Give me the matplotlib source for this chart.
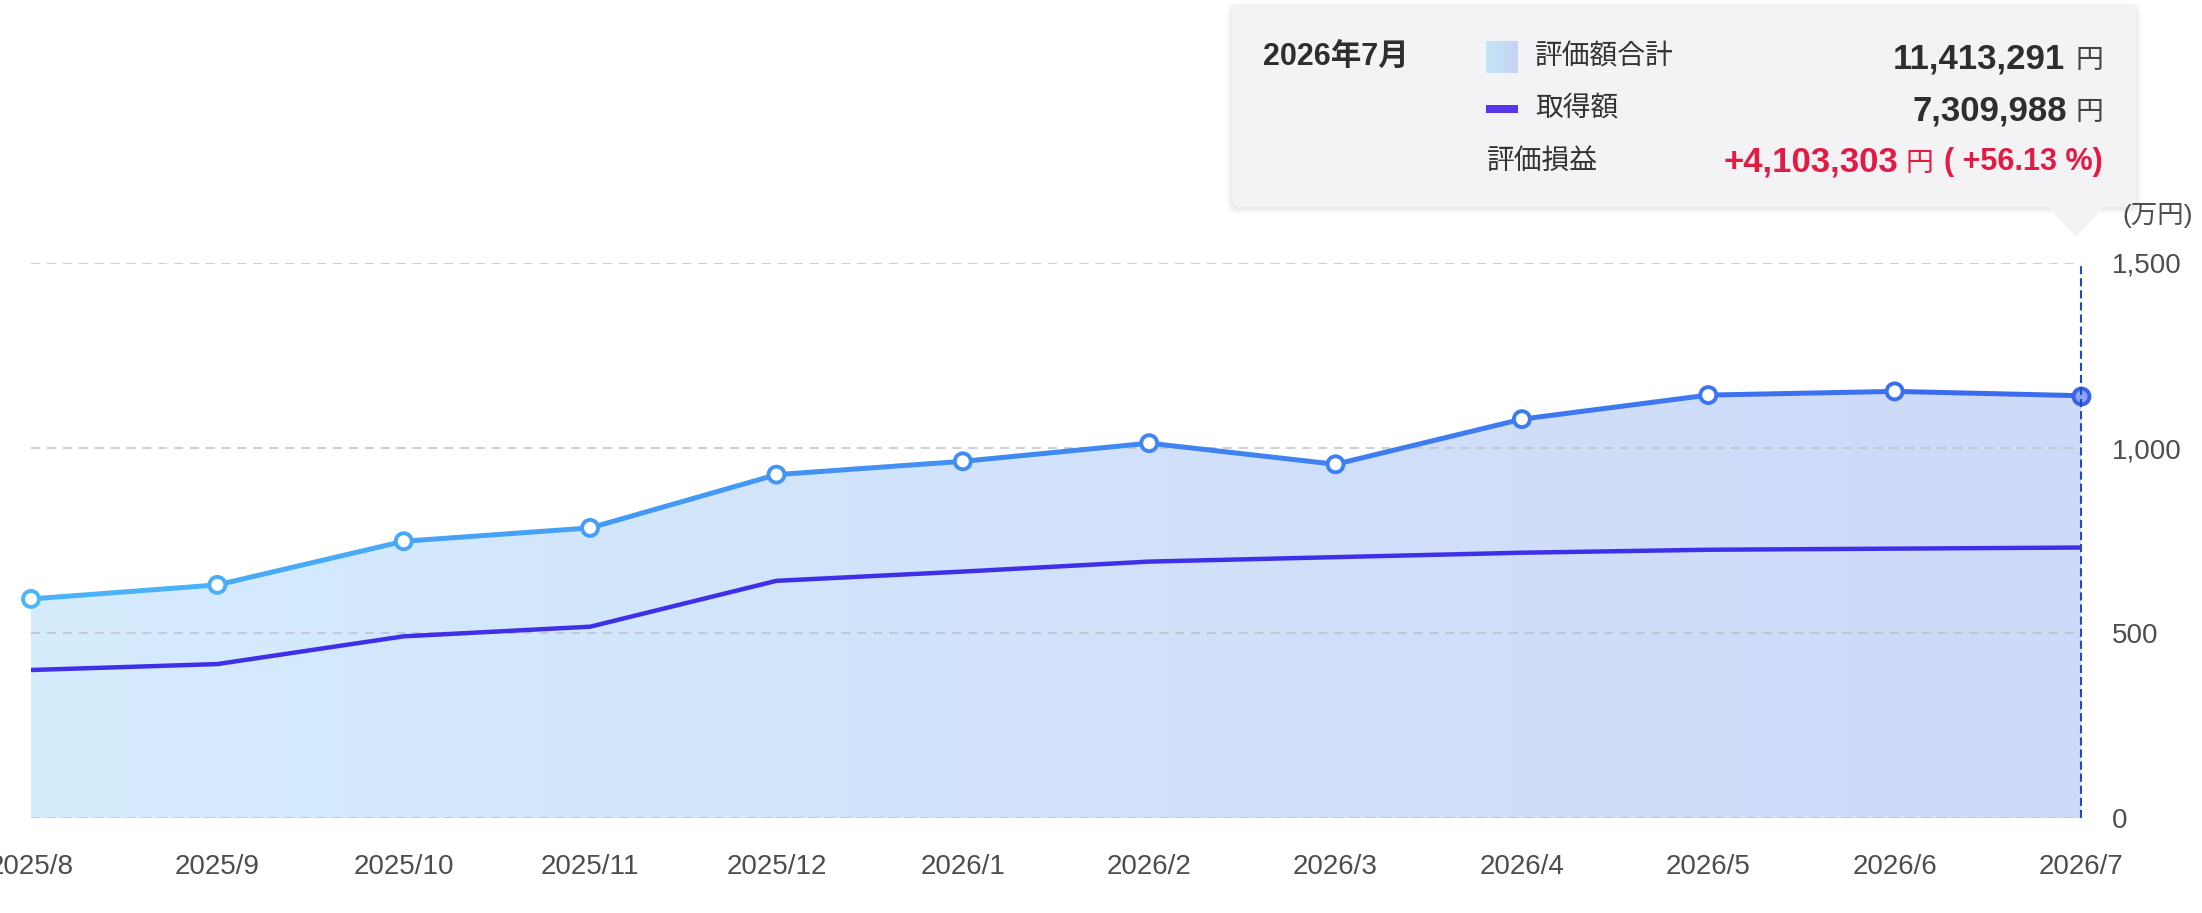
import numpy as np
import matplotlib
matplotlib.use("Agg")
import matplotlib.pyplot as plt
from matplotlib.collections import LineCollection
from matplotlib.patches import FancyBboxPatch, Polygon, Rectangle
from matplotlib.colors import LinearSegmentedColormap

# data (万円)
months = ["2025/8", "2025/9", "2025/10", "2025/11", "2025/12", "2026/1",
          "2026/2", "2026/3", "2026/4", "2026/5", "2026/6", "2026/7"]
valuation = [592, 630, 748, 784, 928, 964, 1013, 956, 1078, 1143, 1153, 1141.3291]
cost = [400, 416, 491, 517, 641, 666, 693, 705, 717, 725, 728, 730.9988]
y_ticks = [0, 500, 1000, 1500]

# tooltip texts
tip_month = "2026年7月"
tip_total = "11,413,291"
tip_cost = "7,309,988"
tip_gain = "+4,103,303"
tip_pct = "( +56.13 %)"

W, H = 2202, 913
plt.rcParams['font.family'] = ['Liberation Sans', 'Noto Sans CJK JP', 'DejaVu Sans']

fig = plt.figure(figsize=(W / 100, H / 100), dpi=100)
ax = fig.add_axes([31 / W, 1 - 818 / H, (2081 - 31) / W, (818 - 263) / H])
x = np.arange(len(months))

# gradient area under the valuation line
fill = ax.fill_between(x, valuation, 0, facecolor='none', edgecolor='none')
area_cmap = LinearSegmentedColormap.from_list('area', ['#d5ecfd', '#d1e2fa', '#cfd9f8'])
grad = np.linspace(0, 1, 256).reshape(1, -1)
im = ax.imshow(grad, extent=[0, 11, 0, 1500], aspect='auto', cmap=area_cmap, zorder=1)
im.set_clip_path(fill.get_paths()[0], transform=ax.transData)

# grid
for t in y_ticks:
    ax.axhline(t, color='#bcc1ca', lw=1.1, ls=(0, (5.9, 4.5)), zorder=2)

# cost line
ax.plot(x, cost, color='#3f2fe8', lw=3.2, zorder=3, solid_joinstyle='round')

# valuation line with colour running from light sky to blue
line_cmap = LinearSegmentedColormap.from_list('line', ['#4cb6fb', '#4089f1', '#3b69ef'])
pts = np.column_stack([x, valuation])
segs = np.stack([pts[:-1], pts[1:]], axis=1)
lc = LineCollection(segs, colors=line_cmap((x[:-1] + 0.5) / 11), linewidths=3.6,
                    capstyle='round', joinstyle='round', zorder=4)
ax.add_collection(lc)
ax.scatter(x[:-1], valuation[:-1], s=11.5 ** 2, facecolors='white',
           edgecolors=line_cmap(x[:-1] / 11), linewidths=2.8, zorder=5, clip_on=False)
ax.scatter(x[-1:], valuation[-1:], s=11.5 ** 2, facecolors='#8aa3f1',
           edgecolors='#3b62ee', linewidths=2.8, zorder=5, clip_on=False)

# hover line
ax.plot([x[-1], x[-1]], [0, 1500], color='#1d4fb8', lw=1.5, ls=(0, (3.9, 1.9)),
        zorder=6, clip_on=False)

ax.set_xlim(0, 11)
ax.set_ylim(0, 1500)
ax.set_xticks(x, months)
ax.tick_params(axis='x', length=0, pad=26, labelsize=20, labelcolor='#4d4d4d')
ax.yaxis.tick_right()
ax.set_yticks(y_ticks, [f"{t:,}" for t in y_ticks])
ax.tick_params(axis='y', length=0, pad=22, labelsize=20, labelcolor='#4d4d4d')
for s in ax.spines.values():
    s.set_visible(False)

fig.text(2122 / W, 1 - 215 / H, "(万円)", fontsize=19, color='#4d4d4d', va='center')

# tooltip box (inches from bottom-left)
def inch(px, py):
    return px / 100, (H - py) / 100

tr = fig.dpi_scale_trans
for i in range(4):
    off = 1.0 + i * 1.2
    sh = FancyBboxPatch(inch(1232 - off, 207 + off + 1.5), (904 + 2 * off) / 100,
                        (201 + 2 * off) / 100,
                        boxstyle='round,pad=0,rounding_size=0.09', transform=tr,
                        fc='black', ec='none', alpha=0.018, zorder=2)
    fig.add_artist(sh)
box = FancyBboxPatch(inch(1232, 207), 904 / 100, 201 / 100,
                     boxstyle='round,pad=0,rounding_size=0.08', transform=tr,
                     fc='#f3f3f5', ec='none', zorder=3)
fig.add_artist(box)
tri = Polygon([inch(2047, 206), inch(2105, 206), inch(2076, 237)], closed=True,
              transform=tr, fc='#f3f3f5', ec='none', zorder=3)
fig.add_artist(tri)

# legend swatches
sw = fig.add_axes([1486 / W, 1 - 73 / H, 32 / W, 32 / H])
sw.imshow(grad, aspect='auto',
          cmap=LinearSegmentedColormap.from_list('sw', ['#c3e7f6', '#c6d3f4']))
sw.axis('off')
sw.set_zorder(10)
fig.add_artist(Rectangle(inch(1486, 113), 32 / 100, 8 / 100, transform=tr,
                         fc='#5b35ec', ec='none', zorder=4))

dark = '#2e2e2e'
red = '#e31b44'
fig.text(1263 / W, 1 - 57 / H, tip_month, fontsize=22, fontweight='bold', color=dark,
         va='center', zorder=5)
fig.text(1535 / W, 1 - 57 / H, "評価額合計", fontsize=20, color='#333333', va='center', zorder=5)
fig.text(1535 / W, 1 - 108 / H, "取得額", fontsize=20, color='#333333', va='center', zorder=5)
fig.text(1487 / W, 1 - 162 / H, "評価損益", fontsize=20, color='#333333', va='center', zorder=5)

fig.text(2065 / W, 1 - 59 / H, tip_total, fontsize=25, fontweight='bold', color=dark,
         va='center', ha='right', zorder=5)
fig.text(2103 / W, 1 - 61 / H, "円", fontsize=20, color='#444444', va='center', ha='right', zorder=5)
fig.text(2067 / W, 1 - 111 / H, tip_cost, fontsize=25, fontweight='bold', color=dark,
         va='center', ha='right', zorder=5)
fig.text(2103 / W, 1 - 113 / H, "円", fontsize=20, color='#444444', va='center', ha='right', zorder=5)
fig.text(1898 / W, 1 - 162 / H, tip_gain, fontsize=25, fontweight='bold', color=red,
         va='center', ha='right', zorder=5)
fig.text(1906 / W, 1 - 164 / H, "円", fontsize=20, color=red, va='center', ha='left', zorder=5)
fig.text(2103 / W, 1 - 162 / H, tip_pct, fontsize=22, fontweight='bold', color=red,
         va='center', ha='right', zorder=5)

fig.savefig('out.png', dpi=100)
